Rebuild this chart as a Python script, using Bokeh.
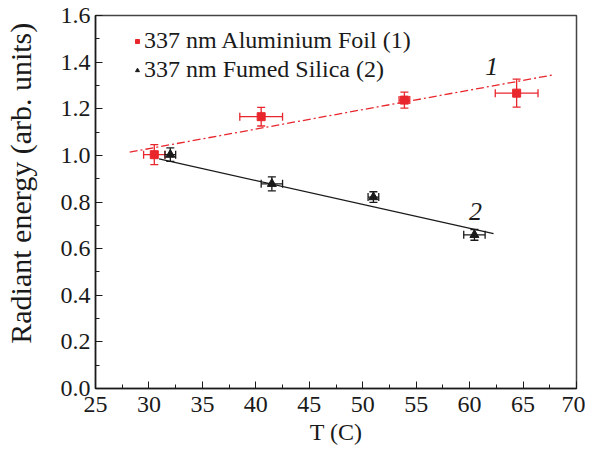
from bokeh.plotting import figure
from bokeh.models import (ColumnDataSource, Whisker, TeeHead, Legend, LegendItem,
                          Label, SingleIntervalTicker, Range1d, PrintfTickFormatter)
from bokeh.embed import file_html
from bokeh.resources import INLINE
import numpy as np

# ---- data ----
al_T = [30.5, 40.5, 53.9, 64.4]
al_E = [1.003, 1.166, 1.237, 1.267]
al_Terr = [1.0, 2.0, 0.5, 2.0]
al_Eerr = [0.043, 0.04, 0.034, 0.06]

fs_T = [32.0, 41.5, 51.0, 60.45]
fs_E = [1.003, 0.878, 0.821, 0.659]
fs_Terr = [0.5, 1.0, 0.5, 1.0]
fs_Eerr = [0.029, 0.03, 0.023, 0.023]

fit1_T = [28.2, 67.9]
fit1_E = [1.014, 1.346]
fit2_T = [30.95, 62.24]
fit2_E = [0.985, 0.664]

RED = "#e8262c"
BLK = "#1a1a1a"
FONT = "Liberation Serif"

p = figure(width=585, height=452, output_backend="svg", toolbar_location=None,
           x_range=Range1d(25, 70), y_range=Range1d(0, 1.6),
           min_border_left=92, min_border_right=9, min_border_top=15, min_border_bottom=64)
p.xgrid.visible = False
p.ygrid.visible = False
p.outline_line_color = "#444444"
p.outline_line_width = 1.5
p.background_fill_color = "white"
p.border_fill_color = "white"

def src(T, E, Terr, Eerr):
    T = np.array(T); E = np.array(E); Terr = np.array(Terr); Eerr = np.array(Eerr)
    return ColumnDataSource(dict(x=T, y=E, xl=T - Terr, xu=T + Terr, yl=E - Eerr, yu=E + Eerr))

s_al = src(al_T, al_E, al_Terr, al_Eerr)
s_fs = src(fs_T, fs_E, fs_Terr, fs_Eerr)

p.line(fit1_T, fit1_E, line_color=RED, line_width=1.3, line_dash="8 3 2 3")
p.line(fit2_T, fit2_E, line_color=BLK, line_width=1.3)

for s, c in ((s_al, RED), (s_fs, BLK)):
    for dim, base, up, lo in (("height", "x", "yu", "yl"), ("width", "y", "xu", "xl")):
        p.add_layout(Whisker(source=s, base=base, upper=up, lower=lo, dimension=dim,
                             line_color=c, line_width=1.3,
                             upper_head=TeeHead(size=8, line_color=c, line_width=1.3),
                             lower_head=TeeHead(size=8, line_color=c, line_width=1.3)))

r_al = p.scatter("x", "y", source=s_al, marker="square", size=8, fill_color=RED, line_color=RED)
r_fs = p.scatter("x", "y", source=s_fs, marker="triangle", size=9, fill_color=BLK, line_color=BLK)

legend = Legend(items=[LegendItem(label="337 nm Aluminium Foil (1)", renderers=[r_al]),
                       LegendItem(label="337 nm Fumed Silica (2)", renderers=[r_fs])],
                location=(37, 305), glyph_width=10, glyph_height=20, label_standoff=2,
                label_height=20, spacing=2, padding=0, margin=0,
                label_text_font=FONT, label_text_font_size="24px", label_text_color=BLK,
                border_line_color=None, background_fill_alpha=0)
p.add_layout(legend)

p.add_layout(Label(x=62.08, y=1.381, text="1", text_font=FONT, text_font_style="italic",
                   text_font_size="26px", text_align="center", text_baseline="middle",
                   text_color=BLK))
p.add_layout(Label(x=60.55, y=0.761, text="2", text_font=FONT, text_font_style="italic",
                   text_font_size="26px", text_align="center", text_baseline="middle",
                   text_color=BLK))

for ax in (p.xaxis[0], p.yaxis[0]):
    ax.major_tick_in = 7
    ax.major_tick_out = 0
    ax.minor_tick_in = 4
    ax.minor_tick_out = 0
    ax.axis_line_color = BLK
    ax.axis_line_width = 1.5
    ax.major_tick_line_color = BLK
    ax.minor_tick_line_color = BLK
    ax.major_label_text_font = FONT
    ax.major_label_text_font_size = "24px"
    ax.major_label_text_color = BLK
    ax.axis_label_text_font = FONT
    ax.axis_label_text_font_style = "normal"
    ax.axis_label_text_color = BLK

p.xaxis[0].ticker = SingleIntervalTicker(interval=5, num_minor_ticks=2)
p.yaxis[0].ticker = SingleIntervalTicker(interval=0.2, num_minor_ticks=2)
p.yaxis[0].formatter = PrintfTickFormatter(format="%.1f")
p.xaxis[0].major_label_standoff = 8
p.yaxis[0].major_label_standoff = 5

p.xaxis[0].axis_label = "T (C)"
p.xaxis[0].axis_label_text_font_size = "24px"
p.xaxis[0].axis_label_standoff = 4

p.yaxis[0].axis_label = "\u00a0" * 5 + "Radiant energy (arb. units)"
p.yaxis[0].axis_label_text_font_size = "30px"
p.yaxis[0].axis_label_standoff = 21

open("out.html", "w").write(file_html(p, INLINE))
